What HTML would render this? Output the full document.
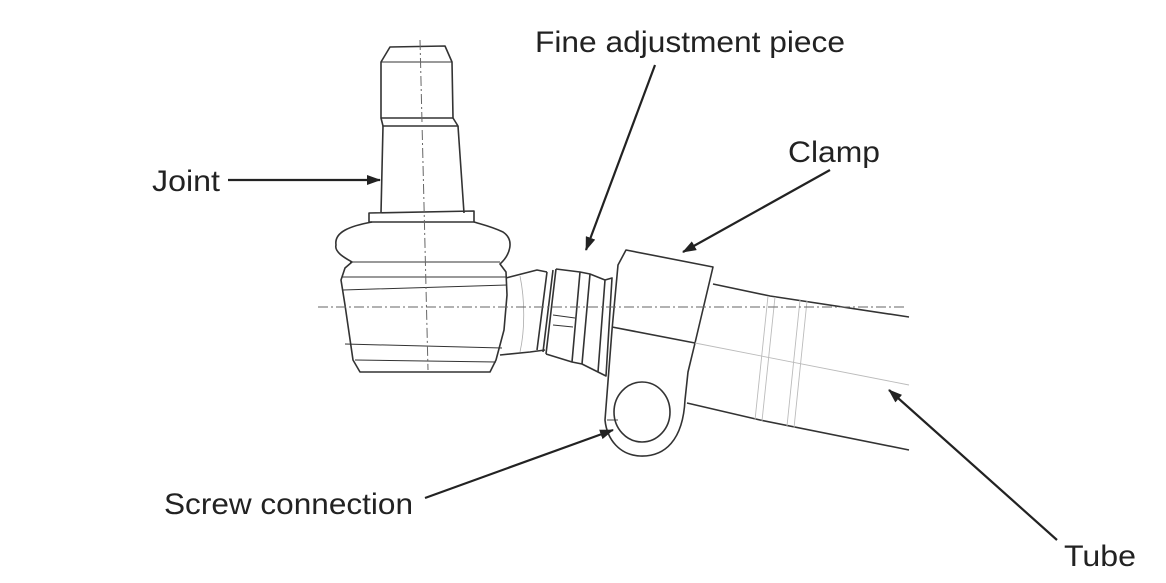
<!DOCTYPE html>
<html><head><meta charset="utf-8"><style>
html,body{margin:0;padding:0;background:#fff;}
svg{display:block;}
text{font-family:"Liberation Sans",Arial,sans-serif;font-size:30px;fill:#222;}
</style></head><body>
<svg width="1166" height="583" viewBox="0 0 1166 583" xmlns="http://www.w3.org/2000/svg">
<defs>
<marker id="ah" markerWidth="14" markerHeight="10" refX="13" refY="5" orient="auto" markerUnits="userSpaceOnUse">
<path d="M0,0 L14,5 L0,10 z" fill="#222"/>
</marker>
</defs>
<rect width="1166" height="583" fill="#fff"/>
<g fill="none" stroke="#333" stroke-width="1.6" stroke-linejoin="round">
<path d="M381,62 L390,47 L445,46 L452,62 L453,118 L381,118 Z"/>
<line x1="381" y1="62" x2="452" y2="62" stroke-width="0.9"/>
<path d="M381,118 L383,126 L458,126 L453,118"/>
<path d="M383,126 L381,213 M458,126 L464,213"/>
<path d="M369,213 L369,222 L474,222 L474,211 Z"/>
<path d="M372,222 C350,226 334,232 336,245 C334,252 345,258 352,262 L345,268 L341,280 L345,305 L353,360 L360,372 L490,372 L496,360 L504,330 L507,295 L506,272 L500,264 C510,255 515,240 503,232 C490,226 480,224 474,222"/>
<path d="M350,262 L500,262 M342,277 L506,277 M343,290 L507,285 M345,344 L502,348 M355,360 L496,362" stroke-width="1"/>
<path d="M506,278 L537,270 L547,272 M500,355 L530,352 L545,350"/>
<path d="M520,276 C525,300 525,330 520,352" stroke="#aaa" stroke-width="0.8"/>
<path d="M547,272 L537,350 M553,270 L543,352 M556,269 L546,354 M556,269 L580,272 L572,362 L546,354 M580,272 L590,274 L582,364 L572,362 M590,274 L605,280 L598,372 L582,364 M605,280 L612,278 L606,376 L598,372"/>
<path d="M553,315 L575,318 M553,325 L573,327" stroke-width="0.9"/>
<path d="M626,250 L713,267 L695,343 L688,372 L685,400 C683,440 665,457 640,456 C620,455 607,440 605,420 L612,330 L618,265 Z"/>
<path d="M612,327 L695,343"/>
<ellipse cx="642" cy="412" rx="28" ry="30"/>
<path d="M607,420 L618,420" stroke-width="0.9"/>
<path d="M713,284 L770,296 L909,317"/>
<path d="M687,403 L760,420 L909,450"/>
<g stroke="#bbb" stroke-width="0.9">
<path d="M768,296 L755,420 M775,297 L762,421 M800,300 L787,426 M807,301 L794,428"/>
<path d="M695,343 L909,385"/>
</g>
</g>
<g stroke="#666" stroke-width="1" fill="none" stroke-dasharray="10,3,2,3">
<line x1="318" y1="307" x2="906" y2="307"/>
<line x1="420" y1="40" x2="428" y2="370"/>
</g>
<g stroke="#222" stroke-width="2.2" fill="none" marker-end="url(#ah)">
<line x1="228" y1="180" x2="380" y2="180"/>
<line x1="655" y1="65" x2="586" y2="250"/>
<line x1="830" y1="170" x2="683" y2="252"/>
<line x1="425" y1="498" x2="613" y2="430"/>
<line x1="1057" y1="540" x2="889" y2="390"/>
</g>
<text x="535" y="52" textLength="310" lengthAdjust="spacingAndGlyphs">Fine adjustment piece</text>
<text x="152" y="191" textLength="68" lengthAdjust="spacingAndGlyphs">Joint</text>
<text x="788" y="162" textLength="92" lengthAdjust="spacingAndGlyphs">Clamp</text>
<text x="164" y="514" textLength="249" lengthAdjust="spacingAndGlyphs">Screw connection</text>
<text x="1064" y="566" textLength="72" lengthAdjust="spacingAndGlyphs">Tube</text>
</svg>
</body></html>
